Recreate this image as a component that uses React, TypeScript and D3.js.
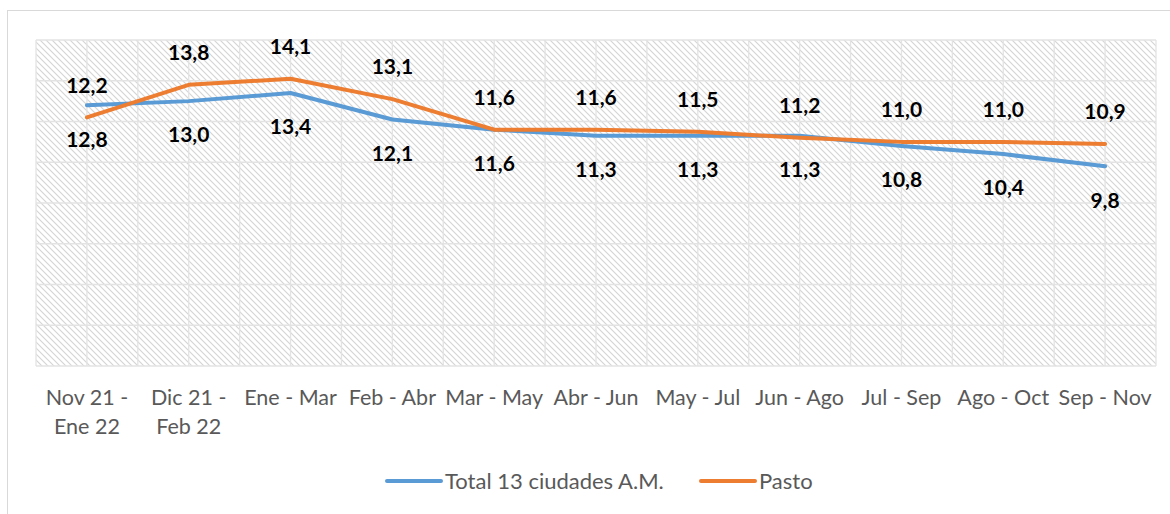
import * as d3 from "d3"
import { useRef, useEffect } from "react"

const categories = [
  "Nov 21 -\nEne 22",
  "Dic 21 -\nFeb 22",
  "Ene - Mar",
  "Feb - Abr",
  "Mar - May",
  "Abr - Jun",
  "May - Jul",
  "Jun - Ago",
  "Jul - Sep",
  "Ago - Oct",
  "Sep - Nov",
]
const totalValues = [12.8, 13.0, 13.4, 12.1, 11.6, 11.3, 11.3, 11.3, 10.8, 10.4, 9.8]
const pastoValues = [12.2, 13.8, 14.1, 13.1, 11.6, 11.6, 11.5, 11.2, 11.0, 11.0, 10.9]
const yTicks = [0, 2, 4, 6, 8, 10, 12, 14, 16]

const seriesNames = ["Total 13 ciudades A.M.", "Pasto"]
const colors = ["#5B9BD5", "#ED7D31"]

const App = () => {
  const svgRef = useRef<SVGSVGElement>(null)
  const width = 1170
  const height = 514
  const left = 36
  const right = 1156
  const top = 40
  const bottom = 366
  const font = "Lato, 'Open Sans', sans-serif"

  useEffect(() => {
    const svg = d3.select(svgRef.current)
    svg.selectAll("*").remove()

    // hatch pattern
    const defs = svg.append("defs")
    const pat = defs
      .append("pattern")
      .attr("id", "hatch")
      .attr("patternUnits", "userSpaceOnUse")
      .attr("width", 6)
      .attr("height", 6)
    pat.append("rect").attr("width", 6).attr("height", 6).attr("fill", "#fff")
    pat
      .append("path")
      .attr("d", "M-1,-1 L7,7 M-4,2 L1,7 M5,-1 L10,4")
      .attr("stroke", "#d4d4d4")
      .attr("stroke-width", 1.1)

    // outer border
    svg
      .append("rect")
      .attr("x", 7.5)
      .attr("y", 10.5)
      .attr("width", 1180)
      .attr("height", 520)
      .attr("fill", "#fff")
      .attr("stroke", "#d9d9d9")

    const x = d3.scaleBand().domain(categories).range([left, right])
    const y = d3.scaleLinear().domain([0, 16]).range([bottom, top])

    // plot area
    svg
      .append("rect")
      .attr("x", left)
      .attr("y", top)
      .attr("width", right - left)
      .attr("height", bottom - top)
      .attr("fill", "url(#hatch)")

    // gridlines
    const grid = svg.append("g").attr("stroke", "#e3e3e3").attr("stroke-width", 1.3)
    grid
      .selectAll("line.h")
      .data(yTicks)
      .join("line")
      .attr("x1", left)
      .attr("x2", right)
      .attr("y1", (d) => y(d))
      .attr("y2", (d) => y(d))
    const halfSteps = d3.range(categories.length * 2 + 1)
    grid
      .selectAll("line.v")
      .data(halfSteps)
      .join("line")
      .attr("x1", (d) => left + (d * x.bandwidth()) / 2)
      .attr("x2", (d) => left + (d * x.bandwidth()) / 2)
      .attr("y1", top)
      .attr("y2", bottom)

    // x axis labels
    const cx = (c: string) => (x(c) as number) + x.bandwidth() / 2
    const xl = svg
      .append("g")
      .selectAll("text")
      .data(categories)
      .join("text")
      .attr("x", cx)
      .attr("y", 405)
      .attr("text-anchor", "middle")
      .attr("font-family", font)
      .attr("font-size", 21.5)
      .attr("fill", "#595959")
    xl.selectAll("tspan")
      .data((d) => d.split("\n").map((t, i) => ({ t, i, c: d })))
      .join("tspan")
      .attr("x", (d) => cx(d.c))
      .attr("dy", (d) => (d.i === 0 ? 0 : 29))
      .text((d) => d.t)

    // lines
    const allSeries = [totalValues, pastoValues]
    const line = d3
      .line<number>()
      .x((_, i) => cx(categories[i]))
      .y((d) => y(d))
    allSeries.forEach((vals, s) => {
      svg
        .append("path")
        .datum(vals)
        .attr("d", line)
        .attr("fill", "none")
        .attr("stroke", colors[s])
        .attr("stroke-width", 4)
        .attr("stroke-linejoin", "round")
        .attr("stroke-linecap", "round")
    })

    // data labels: total below, pasto above
    const fmt = (v: number) => v.toFixed(1).replace(".", ",")
    svg
      .append("g")
      .selectAll("text")
      .data(totalValues)
      .join("text")
      .attr("x", (_, i) => cx(categories[i]))
      .attr("y", (d) => y(d) + 34)
      .attr("dy", "0.35em")
      .attr("text-anchor", "middle")
      .attr("font-family", font)
      .attr("font-weight", "bold")
      .attr("font-size", 21)
      .attr("fill", "#000")
      .text(fmt)
    svg
      .append("g")
      .selectAll("text")
      .data(pastoValues)
      .join("text")
      .attr("x", (_, i) => cx(categories[i]))
      .attr("y", (d) => y(d) - 32)
      .attr("dy", "0.35em")
      .attr("text-anchor", "middle")
      .attr("font-family", font)
      .attr("font-weight", "bold")
      .attr("font-size", 21)
      .attr("fill", "#000")
      .text(fmt)

    // legend
    const legendX = [387, 701]
    seriesNames.forEach((name, s) => {
      const g = svg.append("g").attr("transform", `translate(${legendX[s]}, 481)`)
      g.append("line")
        .attr("x1", 0)
        .attr("x2", 54)
        .attr("stroke", colors[s])
        .attr("stroke-width", 4)
        .attr("stroke-linecap", "round")
      g.append("text")
        .attr("x", 58)
        .attr("y", 0)
        .attr("dy", "0.35em")
        .attr("font-family", font)
        .attr("font-size", 22)
        .attr("fill", "#595959")
        .text(name)
    })
  }, [])

  return (
    <div style={{ position: "absolute", left: 0, top: 0 }}>
      <svg ref={svgRef} width={width} height={height}></svg>
    </div>
  )
}

export default App
